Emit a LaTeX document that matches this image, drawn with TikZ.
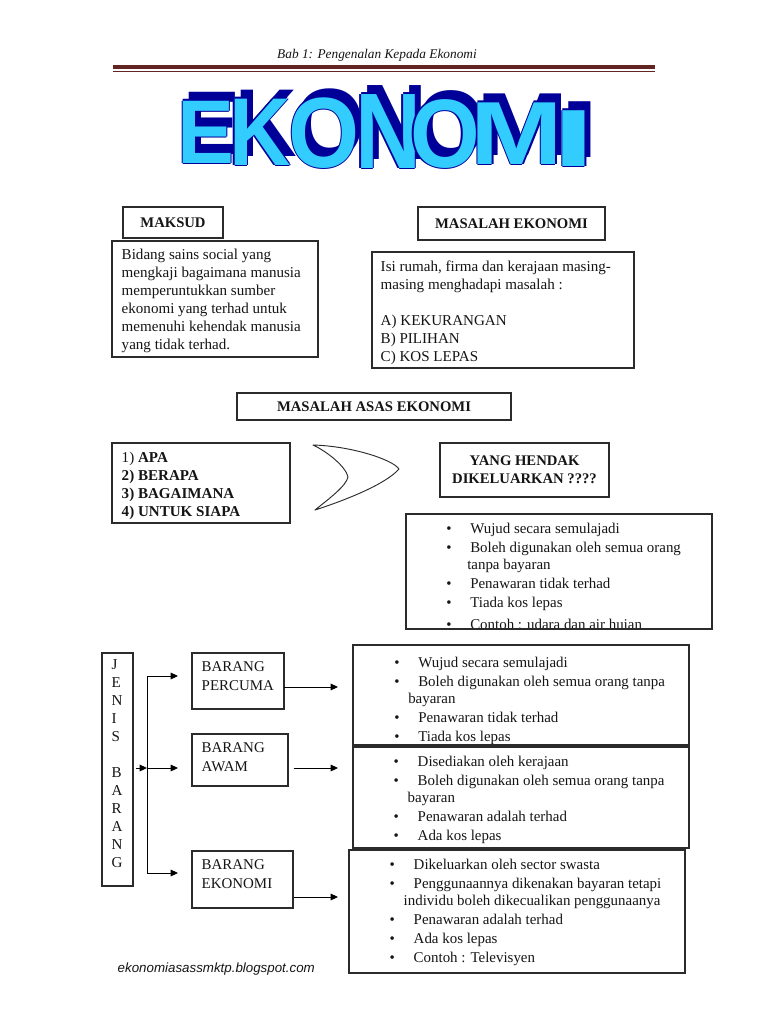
\documentclass[tikz,border=0pt]{standalone}
\usepackage{fontspec}
\usepackage{graphicx}
\setmainfont{Liberation Serif}
\setsansfont{Liberation Sans}
\newfontfamily\artfont{Liberation Sans}
\usetikzlibrary{arrows.meta, positioning, fit}
\definecolor{rulemaroon}{HTML}{622423}
\definecolor{artcyan}{HTML}{33CCFF}
\definecolor{artnavy}{HTML}{000099}
\definecolor{boxgray}{HTML}{2B2B2B}
\definecolor{inkgray}{HTML}{151515}

\newcommand{\itm}{\makebox[18pt][l]{\textbullet}}

\begin{document}
\begin{tikzpicture}[
    x=0.75pt, y=-0.75pt,
    >={Triangle[length=5.5pt, width=5pt]},
    every node/.style={text=inkgray},
    box/.style={draw=boxgray, line width=0.8pt, inner sep=0pt},
    headtxt/.style={font=\fontsize{11}{13.5}\selectfont\bfseries, align=center, inner sep=0pt},
    body/.style={font=\fontsize{11.3}{13.5}\selectfont, align=left, inner sep=0pt, anchor=north west},
    bullets/.style={font=\fontsize{11.2}{12.75}\selectfont, align=left, inner sep=0pt, anchor=north west},
    artletter/.style={font=\artfont\bfseries\fontsize{64}{64}\selectfont, inner sep=0pt, anchor=base},
    flow/.style={->, draw=black, line width=0.7pt},
]

% Page
\fill[white] (0,0) rectangle (768,1024);
\useasboundingbox (0,0) rectangle (768,1024);

% =============================================
% HEADER
% =============================================
\node[font=\itshape\fontsize{10}{12}\selectfont] (header) at (377,55) {Bab 1: Pengenalan Kepada Ekonomi};
\draw[rulemaroon, line width=2.3pt] (113,67) -- (655,67);
\draw[rulemaroon, line width=0.7pt] (113,71.5) -- (655,71.5);

% WordArt title
\foreach \ch/\cx/\by/\sx/\sy [count=\k] in {E/206/163/1.0/1.06, K/260/165/1.0/1.13, O/324/167/1.07/1.17, N/388/168/1.07/1.26, O/445/167/1.05/1.14, M/517/164/1.3/1.05, I/574/166/1.8/0.95} {
  \node[artletter, text=artnavy] at (\cx+6,\by-9) {\scalebox{\sx}[\sy]{\ch}};
  \foreach \dx/\dy in {-1.4/0, 1.4/0, 0/-1.4, 0/1.4}
    \node[artletter, text=artnavy] at (\cx+\dx,\by+\dy) {\scalebox{\sx}[\sy]{\ch}};
  \node[artletter, text=artcyan] (art\k) at (\cx,\by) {\scalebox{\sx}[\sy]{\ch}};
}

% =============================================
% MAKSUD + MASALAH EKONOMI
% =============================================
\node[box, fit={(123,207) (223,238)}] (maksud) {};
\node[headtxt] (maksudlbl) at (maksud) {MAKSUD};
\node[box, fit={(112,241) (318,357)}] (defbox) {};
\node[body] (deftxt) at ([shift={(10,8.7)}]defbox.north west)
  {Bidang sains social yang\\mengkaji bagaimana manusia\\memperuntukkan sumber\\ekonomi yang terhad untuk\\memenuhi kehendak manusia\\yang tidak terhad.};

\node[box, fit={(418,207) (605,240)}] (masalah) {};
\node[headtxt] (masalahlbl) at (masalah) {MASALAH EKONOMI};
\node[box, fit={(372,252) (634,368)}] (masbox) {};
\node[body] (mastxt) at ([shift={(9,9)}]masbox.north west)
  {Isi rumah, firma dan kerajaan masing-\\masing menghadapi masalah :\\[13.5pt]A) KEKURANGAN\\B) PILIHAN\\C) KOS LEPAS};

% =============================================
% MASALAH ASAS EKONOMI
% =============================================
\node[box, fit={(237,393) (511,420)}] (asas) {};
\node[headtxt] (asaslbl) at (asas) {MASALAH ASAS EKONOMI};
\node[box, fit={(112,443) (290,523)}] (soalan) {};
\node[body] (soalantxt) at ([shift={(10,9.6)}]soalan.north west)
  {1) \textbf{APA}\\\textbf{2) BERAPA}\\\textbf{3) BAGAIMANA}\\\textbf{4) UNTUK SIAPA}};

% Boomerang
\draw[boxgray, line width=0.7pt, line join=round] (313,445)
  .. controls (350,446) and (392,459) .. (399,469)
  .. controls (386,484) and (346,500) .. (315,510)
  .. controls (330,498) and (346,486) .. (348,477)
  .. controls (346,467) and (328,452) .. (313,445) -- cycle;

\node[box, fit={(440,443) (609,497)}] (hendak) {};
\node[headtxt] (hendaklbl) at (hendak) {YANG HENDAK\\DIKELUARKAN ????};

\begin{scope}
  \clip (406,514) rectangle (712,629);
  \node[bullets] (wujudtxt) at (446,523)
    {\itm Wujud secara semulajadi\\[1.5pt]\itm Boleh digunakan oleh semua orang\\\hspace*{15.75pt}tanpa bayaran\\[1.5pt]\itm Penawaran tidak terhad\\[1.5pt]\itm Tiada kos lepas\\[4pt]\itm Contoh : udara dan air hujan};
\end{scope}
\node[box, fit={(406,514) (712,629)}] (wujud) {};

% =============================================
% JENIS BARANG
% =============================================
\node[box, fit={(102,653) (133,886)}] (jenis) {};
\node[body] (jenistxt) at ([shift={(10,7)}]jenis.north west)
  {J\\E\\N\\I\\S\\[13.5pt]B\\A\\R\\A\\N\\G};

\node[box, fit={(192,653) (284,709)}] (percuma) {};
\node[body, font=\fontsize{11.2}{13.9}\selectfont] (percumatxt) at ([shift={(10,9)}]percuma.north west) {BARANG\\PERCUMA};
\node[box, fit={(192,734) (288,786)}] (awam) {};
\node[body, font=\fontsize{11.2}{13.9}\selectfont] (awamtxt) at ([shift={(10,9)}]awam.north west) {BARANG\\AWAM};
\node[box, fit={(192,851) (293,908)}] (ekonomi) {};
\node[body, font=\fontsize{11.2}{13.9}\selectfont] (ekonomitxt) at ([shift={(10,9)}]ekonomi.north west) {BARANG\\EKONOMI};

% Detail boxes
\begin{scope}
  \clip (353,645) rectangle (689,745);
  \node[bullets] (percumalist) at (394,656.5)
    {\itm Wujud secara semulajadi\\[1.5pt]\itm Boleh digunakan oleh semua orang tanpa\\\hspace*{10.5pt}bayaran\\[1.5pt]\itm Penawaran tidak terhad\\[2pt]\itm Tiada kos lepas};
\end{scope}
\node[box, fit={(353,645) (689,745)}] (percumabox) {};

\node[box, fit={(353,747) (689,848)}] (awambox) {};
\node[bullets] (awamlist) at ([shift={(41,9.8)}]awambox.north west)
  {\itm Disediakan oleh kerajaan\\[1.5pt]\itm Boleh digunakan oleh semua orang tanpa\\\hspace*{10.5pt}bayaran\\[1.5pt]\itm Penawaran adalah terhad\\[1.5pt]\itm Ada kos lepas};

\node[box, fit={(349,850) (685,973)}] (ekonomibox) {};
\node[bullets] (ekonomilist) at ([shift={(41,9.8)}]ekonomibox.north west)
  {\itm Dikeluarkan oleh sector swasta\\[1.5pt]\itm Penggunaannya dikenakan bayaran tetapi\\\hspace*{10.5pt}individu boleh dikecualikan penggunaanya\\[1.5pt]\itm Penawaran adalah terhad\\[1.5pt]\itm Ada kos lepas\\[1.5pt]\itm Contoh : Televisyen};

% Connectors
\coordinate (hub) at (147,768);
\coordinate (toP) at (178,676);
\coordinate (toA) at (178,768);
\coordinate (toE) at (178,873);
\draw[flow] ([xshift=1.5pt]jenis.east |- hub) -- (hub);
\draw[flow] (hub) |- (toP);
\draw[flow] (hub) -- (toA);
\draw[flow] (hub) |- (toE);

\coordinate (outP) at (338,687);
\coordinate (outA) at (338,768);
\coordinate (outE) at (338,897);
\draw[flow] ([xshift=-0.75pt]percuma.east |- outP) -- (outP);
\draw[flow] ([xshift=3.75pt]awam.east |- outA) -- (outA);
\draw[flow] (ekonomi.east |- outE) -- (outE);

% Footer
\node[font=\sffamily\itshape\fontsize{10}{12}\selectfont, anchor=west] (blog) at (113,969) {ekonomiasassmktp.blogspot.com};

\end{tikzpicture}
\end{document}
